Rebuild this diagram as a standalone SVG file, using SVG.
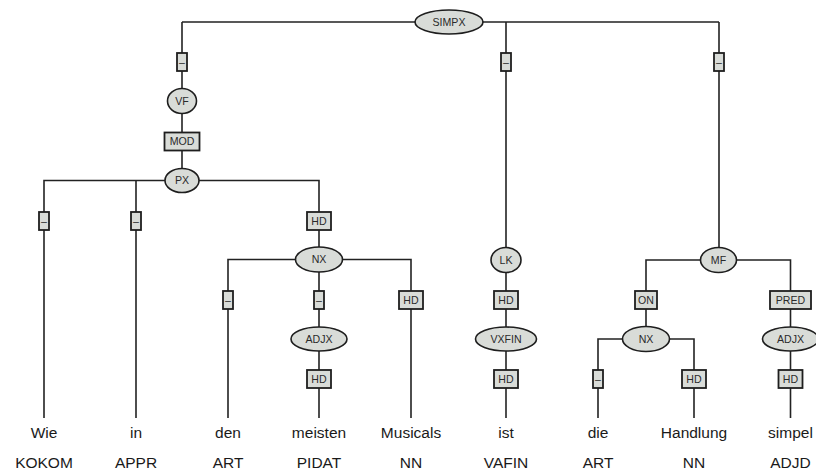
<svg xmlns="http://www.w3.org/2000/svg" width="816" height="474" viewBox="0 0 816 474">
<style>
.e{fill:#d9dcd8;stroke:#1e1e1e;stroke-width:1.6}
.b{fill:#d9dcd8;stroke:#1e1e1e;stroke-width:1.8}
.t{font-family:"Liberation Sans",Arial,sans-serif;font-size:10.6px;fill:#2a2a2a;text-anchor:middle}
.w{font-family:"Liberation Sans",Arial,sans-serif;font-size:15.5px;fill:#1a1a1a;text-anchor:middle}
.c{fill:none;stroke:#222;stroke-width:1.6}
</style>
<rect width="816" height="474" fill="#fff"/>
<g id="connectors" class="c">
<path d="M182,22H719M182,22V89M506,22V248M719,22V248"/>
<path d="M182,113V168M44,418V180.5H319V247M136,180.5V418"/>
<path d="M228,418V259.5H411V418M319,259.5V418"/>
<path d="M506,272V418"/>
<path d="M646,327V260H790.5V418M598,418V339H694V418"/>
</g>
<g id="simpx"><ellipse class="e" cx="449" cy="22" rx="34" ry="12"/><text class="t" x="449" y="25.8">SIMPX</text></g>
<g id="e1"><rect class="b" x="177" y="53" width="10" height="18"/><text class="t" x="182" y="65.5">–</text></g>
<g id="e2"><rect class="b" x="501" y="53" width="10" height="18"/><text class="t" x="506" y="65.5">–</text></g>
<g id="e3"><rect class="b" x="714" y="53" width="10" height="18"/><text class="t" x="719" y="65.5">–</text></g>
<g id="vf"><ellipse class="e" cx="182" cy="101" rx="14.5" ry="12.5"/><text class="t" x="182" y="104.8">VF</text></g>
<g id="mod"><rect class="b" x="164.5" y="132.5" width="35" height="18"/><text class="t" x="182" y="145.3">MOD</text></g>
<g id="px"><ellipse class="e" cx="182" cy="180.5" rx="17" ry="12"/><text class="t" x="182" y="184.3">PX</text></g>
<g id="e4"><rect class="b" x="39" y="212" width="10" height="18"/><text class="t" x="44" y="224.5">–</text></g>
<g id="e5"><rect class="b" x="131" y="212" width="10" height="18"/><text class="t" x="136" y="224.5">–</text></g>
<g id="hd1"><rect class="b" x="307" y="212" width="24" height="18"/><text class="t" x="319" y="224.8">HD</text></g>
<g id="nx1"><ellipse class="e" cx="319" cy="259.5" rx="23.5" ry="12.5"/><text class="t" x="319" y="263.3">NX</text></g>
<g id="e6"><rect class="b" x="223" y="291" width="10" height="18"/><text class="t" x="228" y="303.5">–</text></g>
<g id="e7"><rect class="b" x="314" y="291" width="10" height="18"/><text class="t" x="319" y="303.5">–</text></g>
<g id="hd2"><rect class="b" x="399" y="291" width="24" height="18"/><text class="t" x="411" y="303.8">HD</text></g>
<g id="adjx1"><ellipse class="e" cx="319" cy="339" rx="28" ry="12"/><text class="t" x="319" y="342.8">ADJX</text></g>
<g id="hd3"><rect class="b" x="307" y="370" width="24" height="18"/><text class="t" x="319" y="382.8">HD</text></g>
<g id="lk"><ellipse class="e" cx="506" cy="260" rx="15" ry="12.5"/><text class="t" x="506" y="263.8">LK</text></g>
<g id="hd4"><rect class="b" x="494" y="291" width="24" height="18"/><text class="t" x="506" y="303.8">HD</text></g>
<g id="vxfin"><ellipse class="e" cx="506" cy="339" rx="30.5" ry="12"/><text class="t" x="506" y="342.8">VXFIN</text></g>
<g id="hd5"><rect class="b" x="494" y="370" width="24" height="18"/><text class="t" x="506" y="382.8">HD</text></g>
<g id="mf"><ellipse class="e" cx="718.5" cy="260" rx="18" ry="12.5"/><text class="t" x="718.5" y="263.8">MF</text></g>
<g id="on"><rect class="b" x="635" y="291" width="22" height="18"/><text class="t" x="646" y="303.8">ON</text></g>
<g id="pred"><rect class="b" x="770" y="291" width="41" height="18"/><text class="t" x="790.5" y="303.8">PRED</text></g>
<g id="nx2"><ellipse class="e" cx="646" cy="339" rx="23.5" ry="12.5"/><text class="t" x="646" y="342.8">NX</text></g>
<g id="adjx2"><ellipse class="e" cx="790.5" cy="339" rx="28" ry="12"/><text class="t" x="790.5" y="342.8">ADJX</text></g>
<g id="e8"><rect class="b" x="593" y="370" width="10" height="18"/><text class="t" x="598" y="382.5">–</text></g>
<g id="hd6"><rect class="b" x="682" y="370" width="24" height="18"/><text class="t" x="694" y="382.8">HD</text></g>
<g id="hd7"><rect class="b" x="778.5" y="370" width="24" height="18"/><text class="t" x="790.5" y="382.8">HD</text></g>
<g id="words">
<text class="w" x="44" y="438">Wie</text><text class="w" x="44" y="468">KOKOM</text>
<text class="w" x="136" y="438">in</text><text class="w" x="136" y="468">APPR</text>
<text class="w" x="228" y="438">den</text><text class="w" x="228" y="468">ART</text>
<text class="w" x="319" y="438">meisten</text><text class="w" x="319" y="468">PIDAT</text>
<text class="w" x="411" y="438">Musicals</text><text class="w" x="411" y="468">NN</text>
<text class="w" x="506" y="438">ist</text><text class="w" x="506" y="468">VAFIN</text>
<text class="w" x="598" y="438">die</text><text class="w" x="598" y="468">ART</text>
<text class="w" x="694" y="438">Handlung</text><text class="w" x="694" y="468">NN</text>
<text class="w" x="790.5" y="438">simpel</text><text class="w" x="790.5" y="468">ADJD</text>
</g>
</svg>
